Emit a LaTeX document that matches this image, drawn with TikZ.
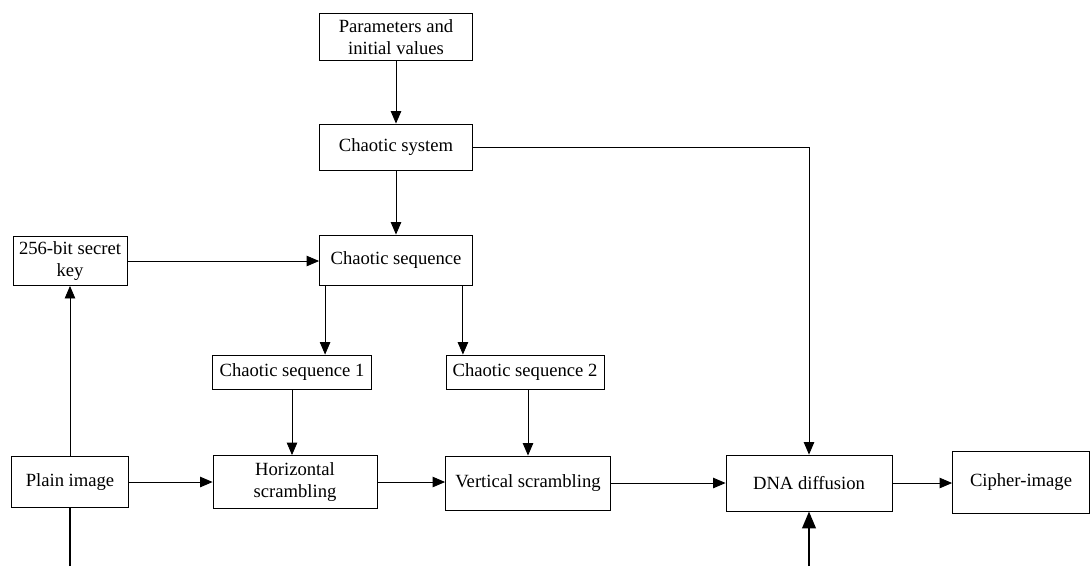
\documentclass[tikz,border=0pt]{standalone}
\usepackage{fontspec}
\setmainfont{Liberation Serif}
\usetikzlibrary{arrows.meta, positioning, calc}

\begin{document}
\begin{tikzpicture}[
        x=0.02cm, y=-0.02cm,
        box/.style={draw, rectangle, inner sep=0pt, align=center, line width=0.5pt, font=\fontsize{10.6}{12.6}\selectfont},
        arrow/.style={-{Triangle[length=2.5mm, width=2.1mm]}, line width=0.5pt},
        inline/.style={line width=1.4pt},
        inarrow/.style={-{Triangle[length=3.4mm, width=2.7mm]}, line width=1.4pt}
    ]
        \useasboundingbox (0,0) rectangle (1091,566);

        % upper chain
        \node[box, minimum width=3.06cm, minimum height=0.94cm] (params) at (396,37) {Parameters and\\initial values};
        \node[box, minimum width=3.06cm, minimum height=0.92cm] (system) at (396,147) {Chaotic system};
        \node[box, minimum width=3.06cm, minimum height=1.0cm] (seq) at (396,260) {Chaotic sequence};
        \node[box, minimum width=2.28cm, minimum height=0.98cm] (key) at (70,261) {256-bit secret\\key};
        \node[box, minimum width=3.18cm, minimum height=0.68cm] (seq1) at (292,372) {Chaotic sequence 1};
        \node[box, minimum width=3.16cm, minimum height=0.68cm] (seq2) at (525,372) {Chaotic sequence 2};

        % main row
        \node[box, minimum width=2.34cm, minimum height=1.02cm] (plain) at (70,482) {Plain image};
        \node[box, minimum width=3.28cm, minimum height=1.06cm] (horiz) at (295,482) {Horizontal\\scrambling};
        \node[box, minimum width=3.3cm, minimum height=1.08cm] (vert) at (528,483) {Vertical scrambling};
        \node[box, minimum width=3.32cm, minimum height=1.12cm] (dna) at (809,483) {DNA diffusion};
        \node[box, minimum width=2.74cm, minimum height=1.24cm] (cipher) at (1021,482) {Cipher-image};

        \coordinate (s1) at ($(seq.south west)+(6,0)$);
        \coordinate (s2) at ($(seq.south east)+(-10,0)$);
        \coordinate (inP) at (70,566);
        \coordinate (inD) at (809,566);

        \draw[arrow] (params) -- (system);
        \draw[arrow] (system) -- (seq);
        \draw[arrow] (system.east) -| (dna.north);
        \draw[arrow] (key.east) -- (key.east -| seq.west);
        \draw[arrow] (s1) -- (s1 |- seq1.north);
        \draw[arrow] (s2) -- (s2 |- seq2.north);
        \draw[arrow] (seq1.south) -- (seq1.south |- horiz.north);
        \draw[arrow] (vert.north |- seq2.south) -- (vert.north);
        \draw[arrow] (plain.north) -- (key.south);
        \draw[arrow] (plain.east) -- (plain.east -| horiz.west);
        \draw[arrow] (horiz.east) -- (horiz.east -| vert.west);
        \draw[arrow] (vert.east) -- (vert.east -| dna.west);
        \draw[arrow] (dna.east) -- (dna.east -| cipher.west);

        % inputs from below
        \draw[inline] (inP) -- (plain.south);
        \draw[inarrow] (inD) -- (dna.south);
    \end{tikzpicture}
\end{document}
